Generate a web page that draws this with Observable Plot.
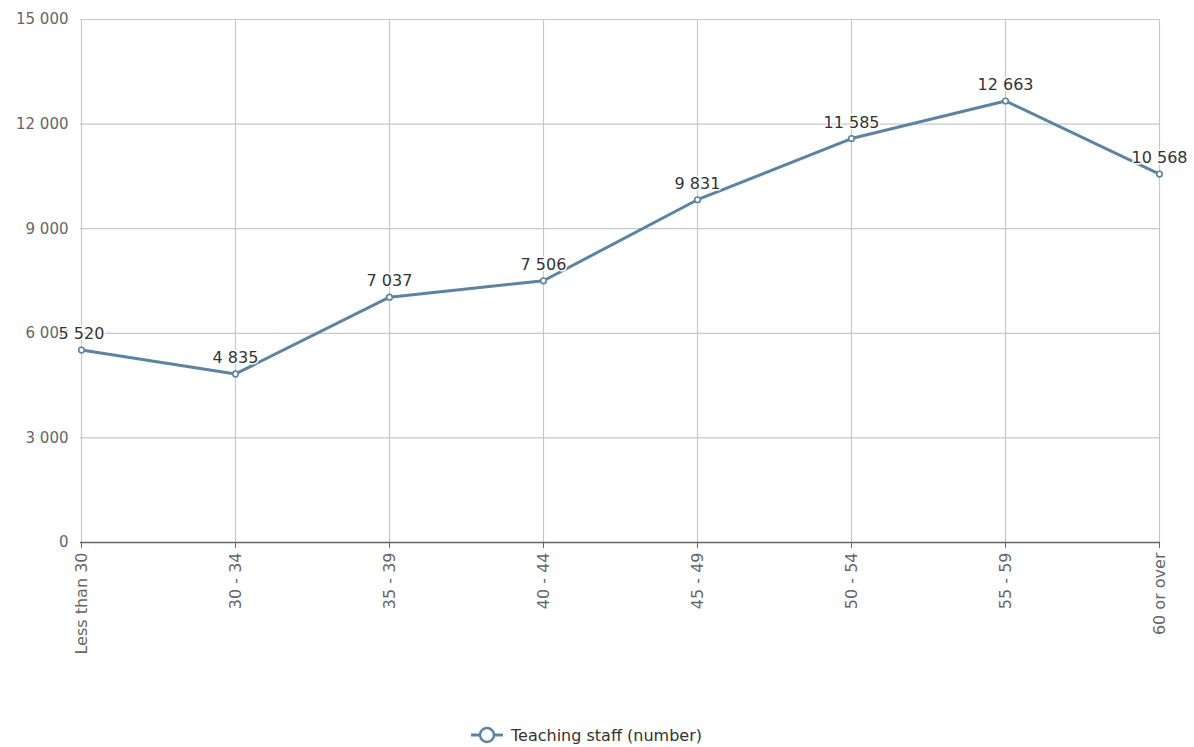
<!DOCTYPE html>
<html><head><meta charset="utf-8">
<script src="https://cdn.jsdelivr.net/npm/d3@7"></script>
<script src="https://cdn.jsdelivr.net/npm/@observablehq/plot@0.6"></script>
<style>
body{margin:0;background:#fff;font-family:"DejaVu Sans",sans-serif;}
#legend{display:flex;justify-content:center;align-items:center;height:40px;margin-top:35px;font-size:16px;color:#333;padding-right:picx;}
#legend .inner{display:flex;align-items:center;margin-right:22px;}
#legend svg{margin-right:7px;}
</style></head><body>
<div id="chart"></div>
<div id="legend"><div class="inner"><svg width="34" height="20"><line x1="1" x2="33" y1="10" y2="10" stroke="#5a84a2" stroke-width="3"/><circle cx="17" cy="10" r="7" fill="#fff" stroke="#5a84a2" stroke-width="2.5"/></svg><span>Teaching staff (number)</span></div></div>
<script>
const categories = ["Less than 30","30 - 34","35 - 39","40 - 44","45 - 49","50 - 54","55 - 59","60 or over"];
const values = [5520, 4835, 7037, 7506, 9831, 11585, 12663, 10568];
const yTicks = [0, 3000, 6000, 9000, 12000, 15000];
const seriesName = "Teaching staff (number)";

const data = categories.map((c, i) => ({cat: c, v: values[i]}));
const fmt = v => d3.format(",")(v).replace(/,/g, " ");
const color = "#5a84a2";

const chart = Plot.plot({
  width: 1194,
  height: 680,
  marginLeft: 80,
  marginRight: 34,
  marginTop: 19,
  marginBottom: 138,
  style: {fontFamily: "DejaVu Sans, sans-serif", fontSize: "14px", background: "#fff"},
  x: {type: "point", domain: categories, padding: 0, label: null},
  y: {domain: [0, 15000], label: null},
  marks: [
    Plot.gridY(yTicks, {stroke: "#c6c8d0", strokeOpacity: 1, strokeWidth: 1.2}),
    Plot.gridX(categories, {stroke: "#c6c8d0", strokeOpacity: 1, strokeWidth: 1.2}),
    Plot.axisY(yTicks, {tickSize: 0, tickPadding: 12, tickFormat: fmt, fill: "#666", fontSize: 15}),
    Plot.axisX(categories, {tickSize: 6, tickRotate: -90, tickPadding: 4, fill: "#666", stroke: "#666", fontSize: 16}),
    Plot.ruleY([0], {stroke: "#666", strokeWidth: 1.5}),
    Plot.line(data, {x: "cat", y: "v", stroke: color, strokeWidth: 3}),
    Plot.dot(data, {x: "cat", y: "v", r: 2.8, fill: "#fff", stroke: color, strokeWidth: 1.6}),
    Plot.text(data, {x: "cat", y: "v", text: d => fmt(d.v), dy: -16, fill: "#333", fontSize: 16, stroke: "#fff", strokeWidth: 3})
  ]
});
document.getElementById("chart").appendChild(chart);
</script>
</body></html>
